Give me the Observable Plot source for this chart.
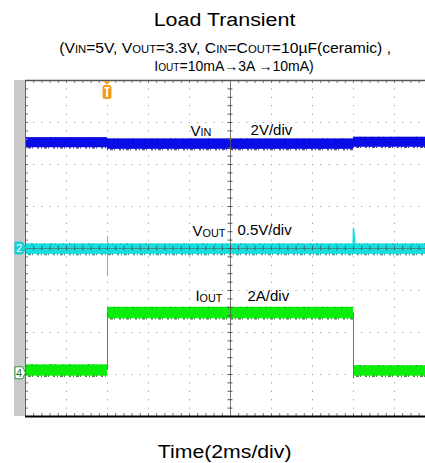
<!DOCTYPE html>
<html><head><meta charset="utf-8">
<script src="https://cdn.jsdelivr.net/npm/d3@7"></script>
<script src="https://cdn.jsdelivr.net/npm/@observablehq/plot@0.6"></script>
<style>
html,body{margin:0;padding:0;background:#fff;overflow:hidden;}
body{width:425px;height:463px;position:relative;font-family:"Liberation Sans",Arial,sans-serif;color:#000;}
.ln{position:absolute;left:0;width:450px;text-align:center;white-space:nowrap;}
.ln span.w{display:inline-block;}
.s{font-size:0.72em;}
#title{top:10.8px;font-size:18px;line-height:18px;}
#title span.w{transform:scaleX(1.19);}
#sub{top:39.9px;font-size:14px;line-height:17.5px;}
#sub span.w1{transform:scaleX(1.12);}
#sub span.w2{transform:scaleX(1.0);position:relative;left:9px;}
#cap{top:442.8px;font-size:18px;line-height:18px;}
#cap span.w{transform:scaleX(1.18);}
#chart{position:absolute;left:0;top:76px;width:425px;height:350px;overflow:hidden;}
#chart svg{overflow:hidden !important;}
</style>
</head><body>
<div class="ln" id="title"><span class="w">Load Transient</span></div>
<div class="ln" id="sub"><span class="w w1">(V<span class="s">IN</span>=5V, V<span class="s">OUT</span>=3.3V, C<span class="s">IN</span>=C<span class="s">OUT</span>=10µF(ceramic) ,</span><br><span class="w w2">I<span class="s">OUT</span>=10mA→3A →10mA)</span></div>
<div id="chart"></div>
<div class="ln" id="cap"><span class="w">Time(2ms/div)</span></div>
<script>
// ---- data (time in ms relative to trigger, levels in screen divisions) ----
const vinStart = [-4, 0, 12];
const vinEnd   = [0, 12, 16];
const vinHigh  = [6.64, 6.61, 6.65];
const vinLow   = [6.40, 6.36, 6.41];

const voutStart = [-4];
const voutEnd   = [16];
const voutHigh  = [4.11];
const voutLow   = [3.86];
const voutSpikeT = [11.98, 12.0, 12.12];
const voutSpikeD = [4.02, 4.48, 3.88];
const voutGlitchT = [0];
const voutGlitchHigh = [4.29];
const voutGlitchLow = [3.33];

const ioutStart = [-4, 0, 12];
const ioutEnd   = [0, 12, 16];
const ioutHigh  = [1.23, 2.60, 1.21];
const ioutLow   = [0.96, 2.33, 0.96];
const ioutEdgeT = [0, 12];
const ioutEdgeFrom = [1.10, 2.47];
const ioutEdgeTo   = [2.47, 0.90];

const labelText = ["V_IN", "2V/div", "V_OUT", "0.5V/div", "I_OUT", "2A/div"];
const labelT = [4.05, 6.98, 4.15, 6.34, 4.29, 6.83];
const labelD = [6.69, 6.71, 4.29, 4.31, 2.74, 2.76];

const gridT = [-2, 0, 2, 4, 8, 10, 12, 14];
const gridD = [1, 2, 3, 5, 6, 7];
const centerT = 6, centerD = 4;
const ch2Level = 4, ch4Level = 1.03, trigT = 0;

// ---- build tables ----
const seg = (s, e, h, l) => s.map((v, i) => ({t0: v, t1: e[i], hi: h[i], lo: l[i]}));
const vin = seg(vinStart, vinEnd, vinHigh, vinLow);
const vout = seg(voutStart, voutEnd, voutHigh, voutLow);
const iout = seg(ioutStart, ioutEnd, ioutHigh, ioutLow);
const spike = voutSpikeT.map((t, i) => ({t, d: voutSpikeD[i]}));
const glitch = voutGlitchT.map((t, i) => ({t, hi: voutGlitchHigh[i], lo: voutGlitchLow[i]}));
const edges = ioutEdgeT.map((t, i) => ({t, a: ioutEdgeFrom[i], b: ioutEdgeTo[i]}));
const labels = labelText.map((s, i) => ({s, t: labelT[i], d: labelD[i]}));
const minorT = d3.range(-4, 16.01, 0.4);
const minorD = d3.range(0, 8.01, 0.2);

const BLUE = "#0a0ce8", CYAN = "#14dede", GREEN = "#0aee0a";

function band(data, fill, dark) {
  return [
    Plot.rect(data, {x1: "t0", x2: "t1", y1: "lo", y2: "hi", fill}),
    Plot.ruleY(data, {y: "lo", x1: "t0", x2: "t1", stroke: dark, strokeWidth: 1.5, strokeDasharray: "1,2,3,1,1,4,2,2", strokeOpacity: 0.7}),
    Plot.ruleY(data, {y: "hi", x1: "t0", x2: "t1", stroke: dark, strokeWidth: 1, strokeDasharray: "1,5,2,3,1,7", strokeOpacity: 0.5})
  ];
}

const plot = Plot.plot({
  width: 425, height: 350,
  marginTop: 4, marginBottom: 10, marginLeft: 25, marginRight: 0,
  x: {domain: [-4, 16], range: [25, 435], axis: null},
  y: {domain: [0, 8], axis: null},
  marks: [
    Plot.ruleX(gridT, {stroke: "#8a8a8a", strokeDasharray: "1,7.4"}),
    Plot.ruleY(gridD, {stroke: "#8a8a8a", strokeDasharray: "1,7.2"}),
    ...band(vin, BLUE, "#000070"),
    ...band(vout, CYAN, "#006a6a"),
    Plot.ruleX(glitch, {x: "t", y1: "lo", y2: "hi", stroke: CYAN, strokeWidth: 1}),
    Plot.line(spike, {x: "t", y: "d", stroke: CYAN, strokeWidth: 1.5}),
    ...band(iout, GREEN, "#005a00"),
    Plot.ruleX(edges, {x: "t", y1: "a", y2: "b", stroke: "#3a9a3a", strokeWidth: 1}),
    // center graticule
    Plot.ruleX([centerT], {stroke: "#555", strokeOpacity: 0.8}),
    Plot.ruleY([centerD], {stroke: "#555", strokeOpacity: 0.6}),
    Plot.ruleY(minorD, {y: d => d, x1: centerT - 0.12, x2: centerT + 0.12, stroke: "#555"}),
    Plot.ruleX(minorT, {x: d => d, y1: centerD - 0.06, y2: centerD + 0.06, stroke: "#444", strokeOpacity: 0.7}),
    // borders
    Plot.ruleX(minorT, {x: d => d, y1: 8, y2: 7.93, stroke: "#777"}),
    Plot.ruleX(minorT, {x: d => d, y1: 0, y2: 0.07, stroke: "#777"}),
    Plot.ruleY(minorD, {y: d => d, x1: -4, x2: -3.85, stroke: "#777"}),
    Plot.ruleX([-4], {stroke: "#666"}),
    Plot.ruleY([8], {stroke: "#555", strokeWidth: 1.5}),
    Plot.ruleY([0], {stroke: "#000", strokeWidth: 2}),
    Plot.text(labels, {x: "t", y: "d", text: "s", textAnchor: "start", lineAnchor: "bottom",
      fontSize: 15, fontFamily: "Liberation Sans, Arial, sans-serif", fill: "#000"})
  ]
});
document.getElementById("chart").appendChild(plot);

// ---- decorations & subscripts ----
const svg = d3.select(plot);
const xs = plot.scale("x"), ys = plot.scale("y");
const x0 = xs.apply(-4), yTop = ys.apply(8), yBot = ys.apply(0);
svg.insert("rect", ":first-child").attr("x", x0 - 11).attr("y", yTop).attr("width", 11)
  .attr("height", yBot - yTop).attr("fill", "#c9c9c9");

svg.selectAll("text").each(function() {
  const s = this.textContent;
  if (!s.includes("_")) return;
  const [a, b] = s.split("_");
  const el = d3.select(this);
  el.text(null);
  el.append("tspan").text(a);
  el.append("tspan").attr("font-size", 10.8).attr("dy", 0.5).text(b);
});

function tag(y, fill, stroke, txtColor, label) {
  const g = svg.append("g");
  const l = x0 - 10, r = x0 - 2.5;
  g.append("path").attr("d", `M${l},${y-6}H${r}L${x0+0.5},${y}L${r},${y+6}H${l}Z`)
    .attr("fill", fill).attr("stroke", stroke).attr("stroke-width", 1);
  g.append("text").attr("x", l + 4).attr("y", y + 4).attr("text-anchor", "middle")
    .attr("font-size", 11).attr("font-family", "Liberation Sans, Arial, sans-serif")
    .attr("fill", txtColor).text(label);
}
tag(ys.apply(ch2Level), "#18cfd8", "#18cfd8", "#fff", "2");
tag(ys.apply(ch4Level), "#fff", "#2d9a2d", "#1a7a1a", "4");

const tx = xs.apply(trigT);
const tg = svg.append("g");
tg.append("path").attr("d", `M${tx-3.5},${yTop+1}H${tx+3.5}L${tx},${yTop+5}Z`).attr("fill", "#f0a020");
tg.append("rect").attr("x", tx - 4.5).attr("y", yTop + 5).attr("width", 9).attr("height", 14).attr("rx", 2.5).attr("fill", "#f0a020");
tg.append("rect").attr("x", tx - 2.5).attr("y", yTop + 7).attr("width", 5).attr("height", 1.6).attr("fill", "#fff");
tg.append("rect").attr("x", tx - 0.9).attr("y", yTop + 7).attr("width", 1.8).attr("height", 10).attr("fill", "#fff");
</script>
</body></html>
